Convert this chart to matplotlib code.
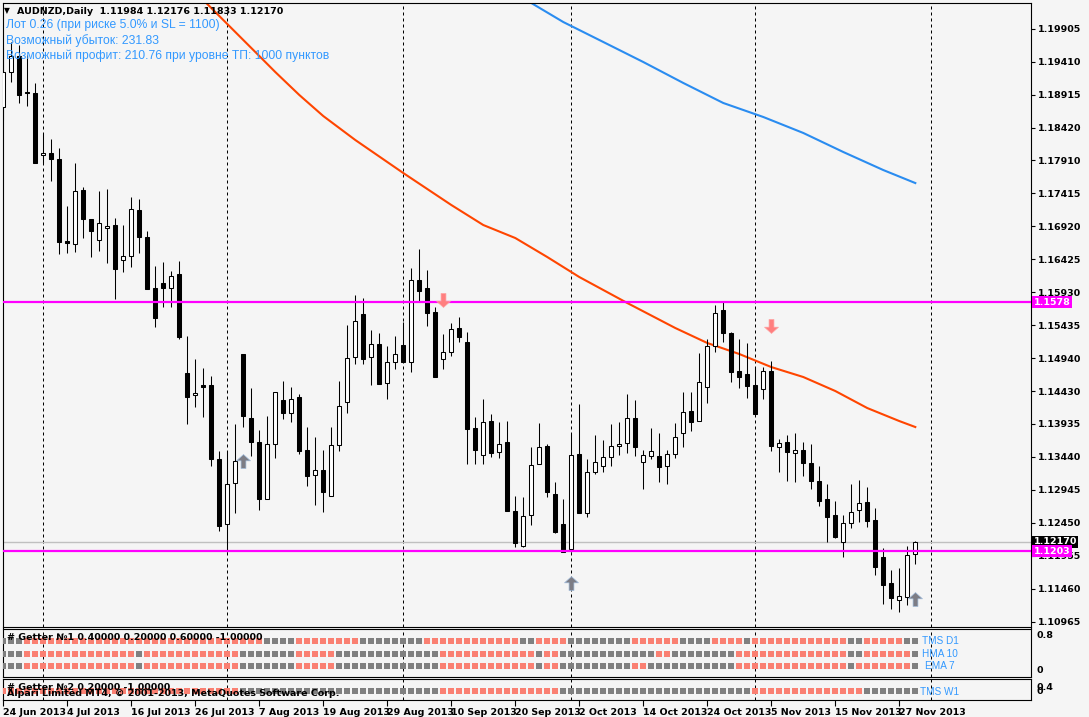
import numpy as np
import matplotlib
matplotlib.use("Agg")
import matplotlib.pyplot as plt
from matplotlib.path import Path

# AUDNZD daily bars, 24 Jun 2013 .. 29 Nov 2013 (one bar per weekday)
opens = [1.18726, 1.19254, 1.19496, 1.18953, 1.18938, 1.18003, 1.18033, 1.17942, 1.16706, 1.16661,
         1.17475, 1.17037, 1.16721, 1.16902, 1.16947, 1.16419, 1.16480, 1.17173, 1.16766, 1.15997,
         1.16073, 1.15997, 1.16208, 1.14715, 1.14384, 1.14535, 1.14535, 1.13418, 1.12438, 1.13057,
         1.15002, 1.14036, 1.13675, 1.12815, 1.13645, 1.14308, 1.14112, 1.14353, 1.13554, 1.13177,
         1.13252, 1.12860, 1.13630, 1.14278, 1.14956, 1.15605, 1.14956, 1.15153, 1.14565, 1.14881,
         1.15138, 1.14881, 1.16118, 1.15997, 1.15635, 1.14926, 1.15032, 1.15394, 1.15183, 1.13886,
         1.13479, 1.13991, 1.13524, 1.13675, 1.12634, 1.12106, 1.12574, 1.13343, 1.13614, 1.12891,
         1.12438, 1.12061, 1.13494, 1.12604, 1.13222, 1.13313, 1.13448, 1.13614, 1.13660, 1.14036,
         1.13373, 1.13463, 1.13463, 1.13313, 1.13494, 1.13811, 1.14142, 1.13991, 1.14505, 1.15122,
         1.15665, 1.15319, 1.14745, 1.14700, 1.14535, 1.14474, 1.14745, 1.13599, 1.13675, 1.13509,
         1.13554, 1.13358, 1.13087, 1.12815, 1.12574, 1.12167, 1.12453, 1.12649, 1.12770, 1.12498,
         1.11941, 1.11549, 1.11292, 1.11337, 1.11984]
highs = [1.19616, 1.19707, 1.19662, 1.19511, 1.19089, 1.18335, 1.18244, 1.18108, 1.17234, 1.17882,
         1.17520, 1.17037, 1.17460, 1.17490, 1.17052, 1.16947, 1.17369, 1.17339, 1.16857, 1.16329,
         1.16389, 1.16253, 1.16404, 1.15273, 1.14926, 1.14790, 1.14670, 1.13539, 1.13539, 1.13946,
         1.15002, 1.14489, 1.13856, 1.14067, 1.14429, 1.14595, 1.14505, 1.14399, 1.13901, 1.13750,
         1.13554, 1.13901, 1.14595, 1.15439, 1.15891, 1.15846, 1.15364, 1.15319, 1.15122, 1.15273,
         1.15484, 1.16298, 1.16585, 1.16268, 1.15710, 1.15304, 1.15469, 1.15560, 1.15334, 1.14051,
         1.14323, 1.14097, 1.13976, 1.13991, 1.12860, 1.12845, 1.13599, 1.13961, 1.13645, 1.13072,
         1.12815, 1.13795, 1.14248, 1.13418, 1.13780, 1.13705, 1.13946, 1.13976, 1.14399, 1.14308,
         1.13554, 1.13886, 1.13811, 1.13554, 1.13961, 1.14429, 1.14429, 1.15017, 1.15228, 1.15741,
         1.15801, 1.15334, 1.15228, 1.15168, 1.14805, 1.14805, 1.14896, 1.13720, 1.13780, 1.13811,
         1.13675, 1.13645, 1.13313, 1.13042, 1.12785, 1.12574, 1.13042, 1.13102, 1.12996, 1.12679,
         1.12076, 1.11744, 1.11775, 1.12106, 1.12176]
lows = [1.18530, 1.19104, 1.18787, 1.18742, 1.17882, 1.17882, 1.17611, 1.16510, 1.16525, 1.16540,
        1.16751, 1.16464, 1.16555, 1.16374, 1.15831, 1.16238, 1.16313, 1.16525, 1.15982, 1.15408,
        1.15710, 1.15710, 1.15228, 1.13946, 1.14202, 1.14051, 1.13313, 1.12333, 1.12016, 1.12604,
        1.13901, 1.13463, 1.12649, 1.12815, 1.13433, 1.14021, 1.13976, 1.13494, 1.13011, 1.12725,
        1.12619, 1.12860, 1.13539, 1.14112, 1.14851, 1.14851, 1.14535, 1.14550, 1.14323, 1.14775,
        1.14881, 1.14730, 1.15801, 1.15424, 1.14655, 1.14775, 1.14971, 1.15183, 1.13343, 1.13343,
        1.13343, 1.13448, 1.13433, 1.12634, 1.12091, 1.12091, 1.12423, 1.13343, 1.12845, 1.12303,
        1.12016, 1.12016, 1.12604, 1.12544, 1.13192, 1.13222, 1.13313, 1.13479, 1.13509, 1.13463,
        1.12966, 1.13418, 1.13072, 1.13042, 1.13433, 1.13599, 1.13841, 1.13991, 1.14263, 1.15032,
        1.15183, 1.14580, 1.14489, 1.14338, 1.14097, 1.14323, 1.13539, 1.13222, 1.13087, 1.13072,
        1.13162, 1.12966, 1.12710, 1.12167, 1.12227, 1.11941, 1.12378, 1.12468, 1.12393, 1.11669,
        1.11232, 1.11156, 1.11111, 1.11217, 1.11833]
closes = [1.19254, 1.19496, 1.18908, 1.18938, 1.17882, 1.18033, 1.17942, 1.16691, 1.16676, 1.17460,
          1.17037, 1.16857, 1.16977, 1.16932, 1.16283, 1.16480, 1.17188, 1.16766, 1.15982, 1.15544,
          1.15997, 1.16178, 1.15258, 1.14353, 1.14414, 1.14505, 1.13418, 1.12408, 1.13042, 1.13388,
          1.14067, 1.13675, 1.12815, 1.13645, 1.14429, 1.14112, 1.14323, 1.13539, 1.13162, 1.13252,
          1.12921, 1.13630, 1.14218, 1.14941, 1.15499, 1.14926, 1.15153, 1.14550, 1.14881, 1.15002,
          1.14881, 1.16118, 1.15952, 1.15620, 1.14655, 1.15032, 1.15379, 1.15258, 1.13871, 1.13554,
          1.13976, 1.13509, 1.13645, 1.12634, 1.12151, 1.12559, 1.13328, 1.13599, 1.12921, 1.12318,
          1.12016, 1.13479, 1.12604, 1.13222, 1.13373, 1.13448, 1.13614, 1.13645, 1.14036, 1.13599,
          1.13479, 1.13539, 1.13298, 1.13494, 1.13750, 1.14127, 1.13976, 1.14580, 1.15122, 1.15620,
          1.15319, 1.14730, 1.14655, 1.14520, 1.14097, 1.14745, 1.13614, 1.13660, 1.13524, 1.13554,
          1.13358, 1.13087, 1.12785, 1.12544, 1.12242, 1.12453, 1.12619, 1.12755, 1.12483, 1.11790,
          1.11518, 1.11322, 1.11352, 1.11971, 1.12170]

# moving averages, read at some bars
ma_red_bars = [24, 26, 28, 30, 32, 34, 37, 40, 44, 50, 56, 60, 64, 68, 72, 78, 84, 88, 92, 96,
               100, 104, 108, 112, 114]
ma_red = [1.20461, 1.20219, 1.19978, 1.19737, 1.19496, 1.19254, 1.18908, 1.18590, 1.18229, 1.17731,
          1.17249, 1.16947, 1.16751, 1.16464, 1.16163, 1.15771, 1.15394, 1.15168, 1.15002, 1.14805,
          1.14655, 1.14444, 1.14187, 1.13991, 1.13901]
ma_blue_bars = [64, 66, 70, 75, 80, 85, 90, 95, 100, 105, 110, 114]
ma_blue = [1.20461, 1.20295, 1.20008, 1.19707, 1.19405, 1.19089, 1.18787, 1.18576, 1.18335,
           1.18048, 1.17776, 1.17580]

levels = [1.1578, 1.1203]
bid = 1.12170

# arrow bar, arrow centre price
up_arrows = [(30, 1.13388), (71, 1.11548), (114, 1.11307)]
down_arrows = [(55, 1.15816), (96, 1.15424)]

month_bars = [5, 28, 50, 71, 94, 116]
date_bars = [0, 8, 16, 24, 32, 40, 48, 56, 64, 72, 80, 88, 96, 104, 112]
date_labels = ["24 Jun 2013", "4 Jul 2013", "16 Jul 2013", "26 Jul 2013", "7 Aug 2013",
               "19 Aug 2013", "29 Aug 2013", "10 Sep 2013", "20 Sep 2013", "2 Oct 2013",
               "14 Oct 2013", "24 Oct 2013", "5 Nov 2013", "15 Nov 2013", "27 Nov 2013"]
price_labels = ["1.10965", "1.11460", "1.11955", "1.12450", "1.12945", "1.13440", "1.13935",
                "1.14430", "1.14940", "1.15435", "1.15930", "1.16425", "1.16920", "1.17415",
                "1.17910", "1.18420", "1.18915", "1.19410", "1.19905"]

# Getter rows: runs of g (grey) / r (salmon)
tms_d1 = [("g", 3), ("r", 30), ("g", 4), ("r", 8), ("g", 8), ("r", 12), ("g", 2), ("r", 4),
          ("g", 8), ("r", 6), ("g", 4), ("r", 4), ("g", 1), ("r", 12), ("g", 2), ("r", 5), ("g", 2)]
hma_10 = [("g", 3), ("r", 14), ("g", 1), ("r", 12), ("g", 7), ("r", 5), ("g", 13), ("r", 12),
          ("g", 1), ("r", 2), ("g", 12), ("r", 2), ("g", 8), ("r", 14), ("g", 2), ("r", 6), ("g", 1)]
ema_7 = [("g", 3), ("r", 14), ("g", 1), ("r", 12), ("g", 7), ("r", 5), ("g", 13), ("r", 12),
         ("g", 1), ("r", 2), ("g", 9), ("r", 2), ("g", 11), ("r", 14), ("g", 1), ("r", 7), ("g", 1)]
tms_w1 = [("r", 30), ("g", 25), ("r", 15), ("g", 24), ("r", 14), ("g", 7)]

BG = "#f5f5f5"
W, H = 1089, 717
fig = plt.figure(figsize=(W / 100, H / 100), dpi=100, facecolor=BG)


def box(x0, y0, x1, y1):
    return [x0 / W, 1 - y1 / H, (x1 - x0) / W, (y1 - y0) / H]


def ftext(x, y, s, **kw):
    fig.text(x / W, 1 - y / H, s, va="center", **kw)


ax = fig.add_axes(box(2.5, 3, 1030.5, 626.5))
s1 = fig.add_axes(box(2.5, 628.5, 1030.5, 677))
s2 = fig.add_axes(box(2.5, 679, 1030.5, 699.5))
for a in (ax, s1, s2):
    a.set_facecolor(BG)
    a.set_xlim(-0.1, 128.4)
    for sp in a.spines.values():
        sp.set_linewidth(0.8)
        sp.set_color("black")
    for b in month_bars:
        a.axvline(b, color="black", lw=0.72, linestyle=(0, (3, 3)), zorder=1)

# candles
n = len(opens)
x = np.arange(n)
ax.vlines(x, lows, highs, color="black", lw=0.75, zorder=3)
for i in range(n):
    o, c = opens[i], closes[i]
    up = c >= o
    lo = min(o, c)
    h = max(abs(c - o), 0.00003)
    ax.bar(i, h, bottom=lo, width=0.5, color="white" if up else "black",
           edgecolor="black", linewidth=0.75, zorder=4)

ax.plot(ma_red_bars, ma_red, color="#ff4500", lw=1.5, zorder=2)
ax.plot(ma_blue_bars, ma_blue, color="#2a8cf0", lw=1.5, zorder=2)

ax.axhline(bid, color="#c0c0c0", lw=1, zorder=1)
for lv in levels:
    ax.axhline(lv, color="#ff00ff", lw=1.6, zorder=5)

# wingdings style arrows
up_path = Path([(0, 1), (1, 0.1), (0.35, 0.1), (0.35, -1), (-0.35, -1), (-0.35, 0.1), (-1, 0.1), (0, 1)],
               [Path.MOVETO] + [Path.LINETO] * 6 + [Path.CLOSEPOLY])
down_path = Path([(0, -1), (1, -0.1), (0.35, -0.1), (0.35, 1), (-0.35, 1), (-0.35, -0.1), (-1, -0.1), (0, -1)],
                 [Path.MOVETO] + [Path.LINETO] * 6 + [Path.CLOSEPOLY])
for b, p in up_arrows:
    ax.plot(b, p, marker=up_path, markersize=10, color="#7d7d85", markeredgecolor="#9db8d8",
            markeredgewidth=0.5, zorder=6)
for b, p in down_arrows:
    ax.plot(b, p, marker=down_path, markersize=10, color="#ff7f7f", markeredgecolor="#ff9f9f",
            markeredgewidth=0.5, zorder=6)

ax.set_ylim(1.10893, 1.20295)
ax.yaxis.tick_right()
ax.set_yticks(np.linspace(1.10967, 1.19907, 19))
ax.set_yticklabels(price_labels)
ax.tick_params(axis="y", direction="out", length=3, width=0.8, pad=2, labelsize=6.8)
for t in ax.get_yticklabels():
    t.set_fontweight("bold")
ax.set_xticks([])

# price tags on the right
ytr = ax.get_yaxis_transform()
tag_x = 1.0 + 3 / 1028
ax.text(tag_x, levels[0], "1.1578", transform=ytr, va="center", ha="left", fontsize=6.8,
        fontweight="bold", color="white", bbox=dict(boxstyle="square,pad=0.15", fc="#ff00ff", ec="none"))
ax.text(tag_x, bid, "1.12170", transform=ytr, va="center", ha="left", fontsize=6.8,
        fontweight="bold", color="white", bbox=dict(boxstyle="square,pad=0.15", fc="black", ec="none"))
ax.text(tag_x, levels[1], "1.1203", transform=ytr, va="center", ha="left", fontsize=6.8,
        fontweight="bold", color="white", bbox=dict(boxstyle="square,pad=0.15", fc="#ff00ff", ec="none"))

# getter rows
cmap = {"g": "#808080", "r": "#fa8072"}


def expand(runs):
    out = []
    for c, k in runs:
        out += [cmap[c]] * k
    return out


for rows, axis, ys in (([tms_d1, hma_10, ema_7], s1, [0.66, 0.37, 0.09]), ([tms_w1], s2, [-0.1])):
    for runs, yv in zip(rows, ys):
        cols = expand(runs)
        axis.scatter(np.arange(len(cols)), [yv] * len(cols), c=cols, marker="s", s=19,
                     linewidths=0, zorder=3)

s1.set_ylim(-0.16, 0.94)
s1.yaxis.tick_right()
s1.set_yticks([0, 0.8])
s1.set_yticklabels(["0", "0.8"])
s1.set_xticks([])
s2.set_ylim(-0.95, 1.1)
s2.yaxis.tick_right()
s2.set_yticks([0, 0.4])
s2.set_yticklabels(["0", "0.4"])
for a in (s1, s2):
    a.tick_params(axis="y", direction="out", length=0, pad=4, labelsize=6.8)
    for t in a.get_yticklabels():
        t.set_fontweight("bold")

s2.set_xticks(date_bars)
s2.set_xticklabels(date_labels)
s2.tick_params(axis="x", direction="out", length=4, width=0.8, pad=2, labelsize=6.8)
for t in s2.get_xticklabels():
    t.set_fontweight("bold")
    t.set_horizontalalignment("left")

# texts
ftext(4, 11, "\u25bc", fontsize=5.5, color="black")
ftext(17, 11, "AUDNZD,Daily  1.11984 1.12176 1.11833 1.12170", fontsize=6.8,
      fontweight="bold", color="black")
blue_txt = "#3399ff"
ftext(6, 25, "Лот 0.26 (при риске 5.0% и SL = 1100)", fontsize=8.7,
      family="Liberation Sans", color=blue_txt)
ftext(6, 41, "Возможный убыток: 231.83", fontsize=8.7, family="Liberation Sans", color=blue_txt)
ftext(6, 56, "Возможный профит: 210.76 при уровне ТП: 1000 пунктов", fontsize=8.7,
      family="Liberation Sans", color=blue_txt)

ftext(7, 637, "# Getter №1 0.40000 0.20000 0.60000 -1.00000", fontsize=6.8,
      fontweight="bold", color="black")
ftext(7, 688, "# Getter №2 0.20000 -1.00000", fontsize=6.8, fontweight="bold", color="black")
ftext(7, 693, "Alpari Limited MT4, © 2001-2013, MetaQuotes Software Corp.", fontsize=6.8,
      fontweight="bold", color="black")
for lx, ly, s in ((922, 641, "TMS D1"), (922, 654, "HMA 10"), (925, 666, "EMA 7"), (920, 692, "TMS W1")):
    ftext(lx, ly, s, fontsize=7.2, family="Liberation Sans", color=blue_txt)

fig.savefig("out.png", dpi=100, facecolor=BG)
